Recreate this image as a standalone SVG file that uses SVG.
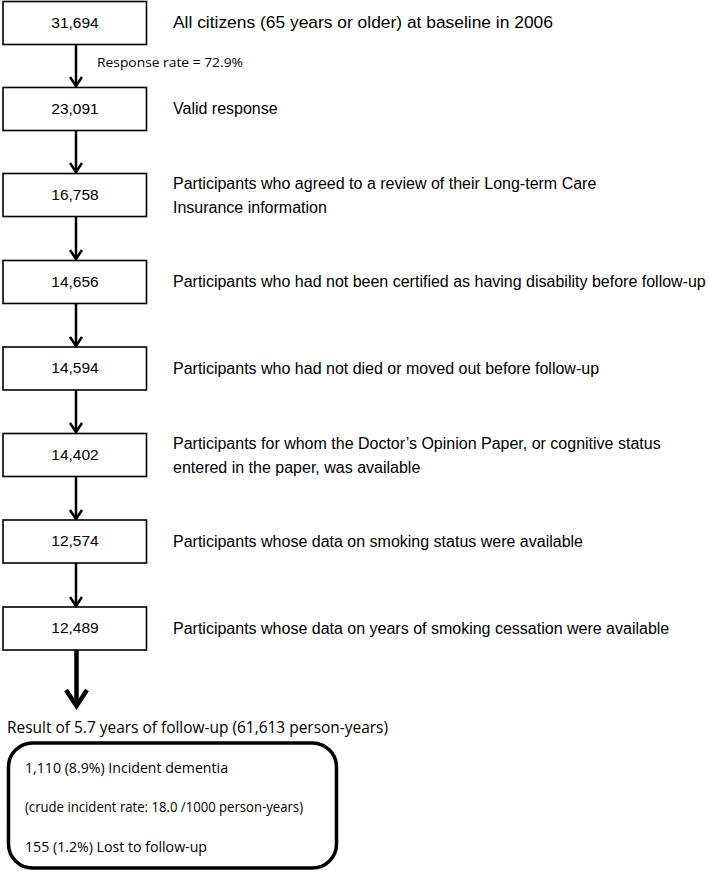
<svg xmlns="http://www.w3.org/2000/svg" width="709" height="871" viewBox="0 0 709 871">
<defs>
<style>
.box{fill:#fff;stroke:#000;stroke-width:1.6}
.num{font-family:"Liberation Sans",Arial,sans-serif;font-size:15.5px;text-anchor:middle;fill:#000}
.lbl{font-family:"Liberation Sans",Arial,sans-serif;font-size:16px;fill:#000}
.big{font-size:17.4px}
.cal{font-family:"Open Sans","Noto Sans",sans-serif;fill:#000}
.ln{stroke:#000;stroke-width:2.5;fill:none}
.head{stroke:#000;stroke-width:2.5;fill:none;stroke-linejoin:miter}
</style>
</defs>
<rect width="709" height="871" fill="#fff"/>
<g id="connectors">
<line class="ln" x1="76" y1="44.5" x2="76" y2="86"/><polyline class="head" points="70,77 76,86 82,77"/>
<line class="ln" x1="76" y1="130.5" x2="76" y2="172"/><polyline class="head" points="70,163 76,172 82,163"/>
<line class="ln" x1="76" y1="216.5" x2="76" y2="259"/><polyline class="head" points="70,250 76,259 82,250"/>
<line class="ln" x1="76" y1="303.5" x2="76" y2="346"/><polyline class="head" points="70,337 76,346 82,337"/>
<line class="ln" x1="76" y1="390" x2="76" y2="432"/><polyline class="head" points="70,423 76,432 82,423"/>
<line class="ln" x1="76" y1="476.5" x2="76" y2="519"/><polyline class="head" points="70,510 76,519 82,510"/>
<line class="ln" x1="76" y1="563" x2="76" y2="606"/><polyline class="head" points="70,597 76,606 82,597"/>
<line x1="76.5" y1="650" x2="76.5" y2="705" stroke="#000" stroke-width="4.5"/>
<polyline points="66,690 76.5,706 87,690" fill="none" stroke="#000" stroke-width="4.5"/>
<text class="cal" x="97" y="67" font-size="13" textLength="146" lengthAdjust="spacingAndGlyphs">Response rate = 72.9%</text>
</g>
<g id="n1"><rect class="box" x="3" y="1.5" width="143.5" height="43"/><text class="num" x="75" y="27.5">31,694</text><text class="lbl big" x="173" y="28">All citizens (65 years or older) at baseline in 2006</text></g>
<g id="n2"><rect class="box" x="3" y="87.5" width="143.5" height="43"/><text class="num" x="75" y="113.5">23,091</text><text class="lbl" x="173" y="114">Valid response</text></g>
<g id="n3"><rect class="box" x="3" y="173.5" width="143.5" height="43"/><text class="num" x="75" y="199.5">16,758</text><text class="lbl" x="173" y="189">Participants who agreed to a review of their Long-term Care</text><text class="lbl" x="173" y="213">Insurance information</text></g>
<g id="n4"><rect class="box" x="3" y="260.5" width="143.5" height="43"/><text class="num" x="75" y="286.5">14,656</text><text class="lbl" x="173" y="287">Participants who had not been certified as having disability before follow-up</text></g>
<g id="n5"><rect class="box" x="3" y="347" width="143.5" height="43"/><text class="num" x="75" y="373">14,594</text><text class="lbl" x="173" y="374">Participants who had not died or moved out before follow-up</text></g>
<g id="n6"><rect class="box" x="3" y="433.5" width="143.5" height="43"/><text class="num" x="75" y="459.5">14,402</text><text class="lbl" x="173" y="449">Participants for whom the Doctor’s Opinion Paper, or cognitive status</text><text class="lbl" x="173" y="473">entered in the paper, was available</text></g>
<g id="n7"><rect class="box" x="3" y="520" width="143.5" height="43"/><text class="num" x="75" y="546">12,574</text><text class="lbl" x="173" y="547">Participants whose data on smoking status were available</text></g>
<g id="n8"><rect class="box" x="3" y="607" width="143.5" height="43"/><text class="num" x="75" y="633">12,489</text><text class="lbl" x="173" y="634">Participants whose data on years of smoking cessation were available</text></g>
<g id="result"><text class="cal" x="7" y="733" font-size="16.5" textLength="381" lengthAdjust="spacingAndGlyphs">Result of 5.7 years of follow-up (61,613 person-years)</text>
<rect x="8.5" y="743" width="328" height="125" rx="24" ry="24" fill="#fff" stroke="#000" stroke-width="3.5"/>
<text class="cal" x="25" y="773" font-size="14.5" textLength="203" lengthAdjust="spacingAndGlyphs">1,110 (8.9%) Incident dementia</text>
<text class="cal" x="25" y="812" font-size="14.5" textLength="278" lengthAdjust="spacingAndGlyphs">(crude incident rate: 18.0 /1000 person-years)</text>
<text class="cal" x="25" y="852" font-size="14.5" textLength="182" lengthAdjust="spacingAndGlyphs">155 (1.2%) Lost to follow-up</text>
</g>
</svg>
